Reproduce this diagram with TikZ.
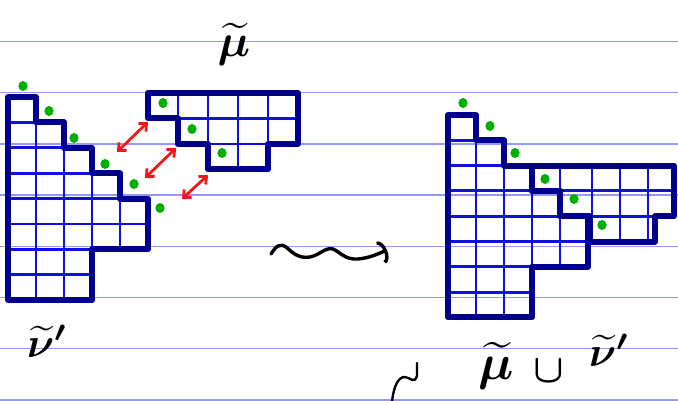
\documentclass[tikz,border=0pt]{standalone}
\usetikzlibrary{arrows.meta}
\definecolor{rulec}{RGB}{150,150,255}
\definecolor{navy}{RGB}{0,0,140}
\definecolor{gridc}{RGB}{15,15,225}
\definecolor{dotc}{RGB}{0,175,0}
\definecolor{arrc}{RGB}{240,25,25}
\begin{document}
\begin{tikzpicture}[x=1pt,y=-1pt,
  ruled/.style={rulec, line width=1.5pt},
  outline/.style={navy, line width=6pt, line join=round, line cap=round},
  gridline/.style={gridc, line width=2.8pt},
  redarr/.style={arrc, line width=2.8pt, line cap=round, >={Straight Barb[length=6pt,width=11pt]}, <->},
  ink/.style={black, line width=3.4pt, line cap=round, line join=round},
  lab/.style={inner sep=0pt, text=black}
]
\useasboundingbox (0,0) rectangle (678,401);
\fill[white] (0,0) rectangle (678,401);
% ruled lines
\foreach \y in {41.5,92.7,143.9,195.1,246.3,297.5,348.7,399.9}
  \draw[ruled] (0,\y) -- (678,\y);

% ---------- left shape nu' ----------
\begin{scope}
  \clip (8,97) -- (36,97) -- (36,122.4) -- (64,122.4) -- (64,147.8) -- (92,147.8) -- (92,173.2) -- (120,173.2) -- (120,198.6) -- (148,198.6) -- (148,249.4) -- (92,249.4) -- (92,300.2) -- (8,300.2) -- cycle;
  \foreach \x in {36,64,92,120} \draw[gridline] (\x,90) -- (\x,310);
  \foreach \y in {122.4,147.8,173.2,198.6,224,249.4,274.8} \draw[gridline] (0,\y) -- (160,\y);
\end{scope}
\draw[outline] (8,97) -- (36,97) -- (36,122.4) -- (64,122.4) -- (64,147.8) -- (92,147.8) -- (92,173.2) -- (120,173.2) -- (120,198.6) -- (148,198.6) -- (148,249.4) -- (92,249.4) -- (92,300.2) -- (8,300.2) -- cycle;

% ---------- top shape mu ----------
\begin{scope}
  \clip (148,93) -- (298,93) -- (298,144) -- (268,144) -- (268,169.5) -- (208,169.5) -- (208,144) -- (178,144) -- (178,118.5) -- (148,118.5) -- cycle;
  \foreach \x in {178,208,238,268} \draw[gridline] (\x,85) -- (\x,180);
  \foreach \y in {118.5,144} \draw[gridline] (140,\y) -- (305,\y);
\end{scope}
\draw[outline] (148,93) -- (298,93) -- (298,144) -- (268,144) -- (268,169.5) -- (208,169.5) -- (208,144) -- (178,144) -- (178,118.5) -- (148,118.5) -- cycle;

% ---------- right union ----------
\begin{scope}
  \clip (448,115) -- (476,115) -- (476,140.3) -- (504,140.3) -- (504,165.6) -- (532,165.6) -- (532,190.9) -- (560,190.9) -- (560,216.2) -- (588,216.2) -- (588,266.8) -- (532,266.8) -- (532,317.4) -- (448,317.4) -- cycle;
  \foreach \x in {476,504,532,560} \draw[gridline] (\x,105) -- (\x,325);
  \foreach \y in {140.3,165.6,190.9,216.2,241.5,266.8,292.1} \draw[gridline] (440,\y) -- (600,\y);
\end{scope}
\begin{scope}
  \clip (532,165.6) -- (674,165.6) -- (674,216.2) -- (655,216.2) -- (655,241.5) -- (590,241.5) -- (590,216.2) -- (560,216.2) -- (560,190.9) -- (532,190.9) -- cycle;
  \foreach \x in {560,592,620,648} \draw[gridline] (\x,155) -- (\x,250);
  \foreach \y in {190.9,216.2} \draw[gridline] (525,\y) -- (680,\y);
\end{scope}
\draw[outline] (448,115) -- (476,115) -- (476,140.3) -- (504,140.3) -- (504,165.6) -- (532,165.6) -- (532,190.9) -- (560,190.9) -- (560,216.2) -- (588,216.2) -- (588,266.8) -- (532,266.8) -- (532,317.4) -- (448,317.4) -- cycle;
\draw[outline] (532,165.6) -- (674,165.6) -- (674,216.2) -- (655,216.2) -- (655,241.5) -- (590,241.5) -- (590,216.2) -- (560,216.2) -- (560,190.9) -- (532,190.9) -- cycle;

% ---------- green dots ----------
\foreach \p in {(23,86),(49,111),(74,138),(105,164),(134,184),(160,208),
                (163,103),(192,129),(222,153),
                (463,103),(490,126),(515,153),(545,179),(574,199),(602,225)}
  \fill[dotc] \p ellipse (4.6pt and 5pt);

% ---------- red double arrows ----------
\coordinate (a1s) at (117,152); \coordinate (a1e) at (148,122);
\coordinate (a2s) at (145,178); \coordinate (a2e) at (176,148);
\coordinate (a3s) at (182,199); \coordinate (a3e) at (208,175);
\draw[redarr] (a1s) -- (a1e);
\draw[redarr] (a2s) -- (a2e);
\draw[redarr] (a3s) -- (a3e);

% ---------- wavy arrow ----------
\coordinate (w0) at (271,254);
\coordinate (w1) at (387,250);
\draw[ink, -{Arc Barb[length=7pt,width=24pt]}] (w0) .. controls (276,246) and (280,243) .. (286,247)
  .. controls (292,252) and (298,259) .. (310,257)
  .. controls (320,255) and (325,247) .. (333,249)
  .. controls (340,252) and (345,260) .. (358,259)
  .. controls (370,258) and (380,253) .. (w1);

% stray stroke bottom
\coordinate (s0) at (392,401);
\coordinate (s1) at (417,363);
\draw[black, line width=2.4pt, line cap=round] (s0) .. controls (394,386) and (398,377) .. (405,377)
  .. controls (411,378) and (414,384) .. (417,376) -- (s1);

% ---------- labels ----------
\node[lab, anchor=base] (muT) at (234,57) {\scalebox{4.6}{\boldmath$\widetilde{\mu}$}};
\node[lab, anchor=base west] (nuL) at (27,357) {\scalebox{4.2}{\boldmath$\widetilde{\nu}'$}};
\node[lab, anchor=base] (muR) at (496,379) {\scalebox{5}{\boldmath$\widetilde{\mu}$}};
\node[lab, anchor=base] (cupR) at (549,382) {\scalebox{4}{\boldmath$\cup$}};
\node[lab, anchor=base west] (nuR) at (589,366) {\scalebox{4.2}{\boldmath$\widetilde{\nu}'$}};
\end{tikzpicture}
\end{document}
